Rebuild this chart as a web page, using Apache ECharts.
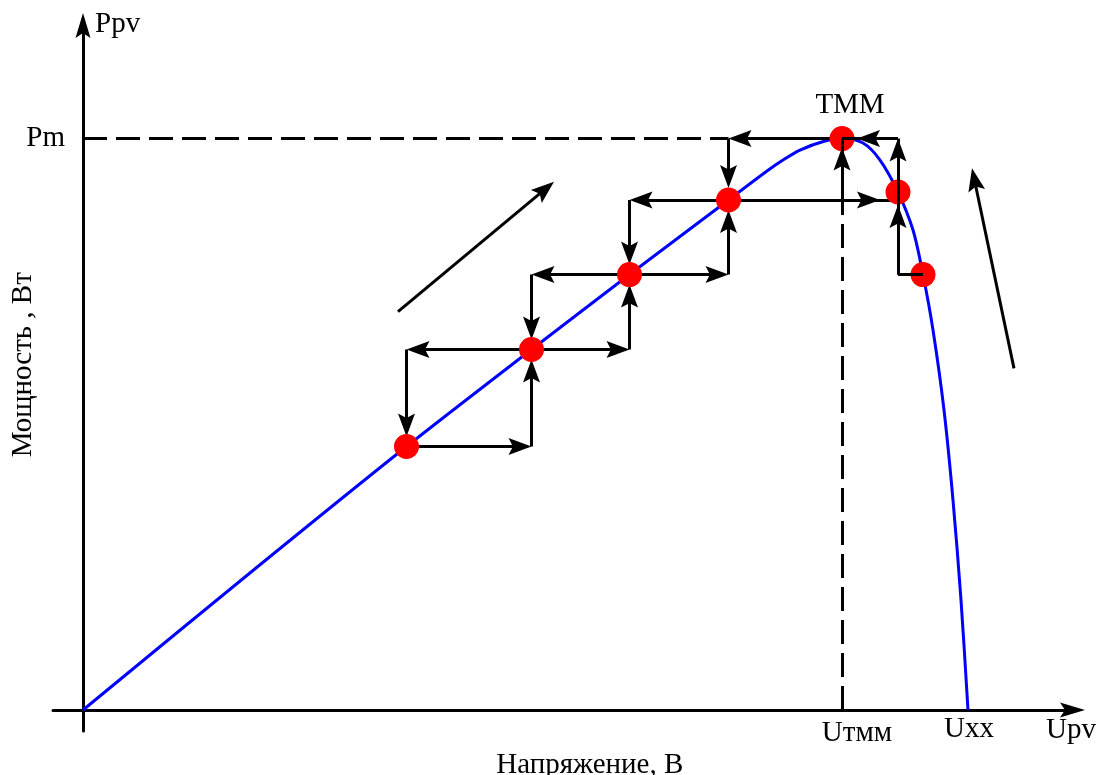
<!DOCTYPE html>
<html><head><meta charset="utf-8">
<script src="https://cdn.jsdelivr.net/npm/echarts@6/dist/echarts.min.js"></script>
<style>html,body{margin:0;padding:0;background:#fff}#c{width:1105px;height:775px}</style>
</head><body><div id="c"></div>
<script>
// ---- data ----
const xTitle = 'Напряжение, В';
const yTitle = 'Мощность , Вт';
// P-U curve of the PV panel (schematic units)
const curveX = [0, 16.2, 32.35, 44.85, 54.65, 64.55, 68.4, 70.0, 71.7, 74.2, 75.9, 78.0, 79.7, 81.5, 83.0, 84.0, 85.0, 86.1, 87.0, 87.8, 88.5];
const curveY = [0, 19.0, 37.64, 51.5, 62.21, 72.86, 77.0, 78.57, 80.0, 81.29, 81.64, 81.0, 78.57, 74.0, 68.57, 62.21, 54.29, 42.86, 30.0, 15.71, 0];
// operating points (red dots) P1..P7, P5 = MPP
const opX = [32.35, 44.85, 54.65, 64.55, 75.9, 81.5, 84.0];
const opY = [37.64, 51.5, 62.21, 72.86, 81.64, 74.0, 62.21];
// trend arrows
const trendStartX = [31.5, 93.1];
const trendStartY = [56.9, 48.81];
const trendEndX = [47.1, 88.9];
const trendEndY = [75.47, 77.39];
// text labels
const lblPm = 'Pm', lblUmpp = 'Uтмм', lblUoc = 'Uхх', lblUpv = 'Upv', lblPpv = 'Ppv', lblMpp = 'ТММ';
const xMin = -3, xMax = 98.95, yMin = -3, yMax = 97.79;
const upvAt = 98.8, ppvAt = 98.0;

// ---- chart ----
const chart = echarts.init(document.getElementById('c'), null, {renderer: 'canvas'});
const font = {fontFamily: 'Liberation Serif', fontSize: 29, color: '#000', textBorderWidth: 0, opacity: 1};
const ARROW = 'path://M10,0 L20,26 L10,21 L0,26 Z';
const AXIS_ARROW = 'path://M7.5,0 L15,25 L7.5,20 L0,25 Z';
const HEAD = 23, HW = 17;
const axisCommon = {
  type: 'value', axisTick: {show: false}, axisLabel: {show: false}, splitLine: {show: false},
};
chart.setOption({
  animation: false,
  grid: {left: 53, right: 32.5, top: 25.5, bottom: 44, containLabel: false, outerBoundsMode: 'none'},
  xAxis: Object.assign({}, axisCommon, {
    min: xMin, max: xMax, name: xTitle, nameLocation: 'middle', nameGap: 20,
    nameTextStyle: Object.assign({}, font, {padding: [0, 0, 0, 54]}),
    axisLine: {onZero: true, symbol: ['none', AXIS_ARROW], symbolSize: [15, 25], lineStyle: {color: '#000', width: 3}}
  }),
  yAxis: Object.assign({}, axisCommon, {
    min: yMin, max: yMax, name: yTitle, nameLocation: 'middle', nameGap: 15,
    nameTextStyle: Object.assign({}, font, {padding: [0, 0, 0, 27]}),
    axisLine: {onZero: true, symbol: ['none', AXIS_ARROW], symbolSize: [15, 25], lineStyle: {color: '#000', width: 3}}
  }),
  series: []
});

const toPx = p => chart.convertToPixel({gridIndex: 0}, p);
const fromPx = p => chart.convertFromPixel({gridIndex: 0}, p);
const P = i => [opX[i], opY[i]];
function arrow(a, b, gap) {
  const pa = toPx(a), pb = toPx(b);
  const dx = pb[0] - pa[0], dy = pb[1] - pa[1];
  const L = Math.hypot(dx, dy), ux = dx / L, uy = dy / L;
  const back = gap + HEAD / 2;
  const end = [pb[0] - ux * back, pb[1] - uy * back];
  return {coords: [a, fromPx(end)]};
}
const plain = (a, b) => ({coords: [a, b]});

const GV = 10;
const underArrows = [], underPlain = [], overArrows = [], overPlain = [], dashed = [];
for (let i = 0; i < 3; i++) {
  const A = P(i), B = P(i + 1);
  underArrows.push(arrow(A, [B[0], A[1]], 0));
  underArrows.push(arrow([B[0], A[1]], B, GV));
  underArrows.push(arrow(B, [A[0], B[1]], 0));
  underArrows.push(arrow([A[0], B[1]], A, GV));
}
const P4 = P(3), P5 = P(4), P6 = P(5), P7 = P(6);
underArrows.push(arrow(P5, [P4[0], P5[1]], 0));
underArrows.push(arrow([P4[0], P5[1]], P4, GV + 2));
underArrows.push(arrow(P4, [P6[0], P4[1]], 18));
underPlain.push(plain(P4, [P6[0], P4[1]]));
dashed.push(plain([0, P5[1]], [P4[0], P5[1]]));
dashed.push(plain([P5[0], 0], [P5[0], P4[1]]));
overPlain.push(plain(P7, [P6[0], P7[1]]));
overPlain.push(plain([P6[0], P7[1]], [P6[0], P5[1]]));
overPlain.push(plain([P6[0], P5[1]], P5));
overPlain.push(plain([P5[0], P4[1]], P5));
overArrows.push(arrow([P6[0], P7[1]], P6, 13));
overArrows.push(arrow(P6, [P6[0], P5[1]], 0));
overArrows.push(arrow([P6[0], P5[1]], P5, 15));
overArrows.push(arrow([P5[0], P4[1]], P5, 9));
for (let i = 0; i < trendStartX.length; i++) {
  underArrows.push(arrow([trendStartX[i], trendStartY[i]], [trendEndX[i], trendEndY[i]], 0));
}

const blk = {color: '#000', width: 3};
function linesSeries(data, withArrow, z, extra) {
  return Object.assign({
    type: 'lines', coordinateSystem: 'cartesian2d', polyline: false, silent: true, z: z,
    symbol: withArrow ? ['none', ARROW] : ['none', 'none'],
    symbolSize: withArrow ? [0, [HW, HEAD]] : 0,
    lineStyle: Object.assign({}, blk, {opacity: 1, curveness: 0}),
    data: data
  }, extra || {});
}
const lbl = (value, text, position, distance, offset) => ({
  value: value,
  label: Object.assign({show: true, formatter: text, position: position, distance: distance, offset: offset || [0, 0]}, font)
});

chart.setOption({
  series: [
    {type: 'line', z: 1, silent: true, showSymbol: false, smooth: 0.3,
     lineStyle: {color: '#0000ff', width: 3}, data: curveX.map((x, i) => [x, curveY[i]])},
    linesSeries(dashed, false, 2, {lineStyle: {color: '#000', width: 3, type: [24, 9], opacity: 1}}),
    linesSeries(underPlain, false, 2),
    linesSeries(underArrows, true, 2),
    {type: 'scatter', z: 3, silent: true, symbol: 'circle', symbolSize: 25,
     itemStyle: {color: '#ff0000', opacity: 1}, data: opX.map((x, i) => [x, opY[i]])},
    linesSeries(overPlain, false, 4),
    linesSeries(overArrows, true, 4),
    {type: 'scatter', z: 5, silent: true, clip: false, symbol: 'circle', symbolSize: 0,
     itemStyle: {color: '#000'},
     data: [
       lbl([0, opY[4]], lblPm, 'left', 18),
       lbl([opX[4], 0], lblUmpp, 'bottom', 9, [15, 0]),
       lbl([curveX[curveX.length - 1], 0], lblUoc, 'bottom', 5, [1, 0]),
       lbl([upvAt, 0], lblUpv, 'bottom', 6, [0, 0]),
       lbl([0, ppvAt], lblPpv, 'right', 12),
       lbl([opX[4], opY[4]], lblMpp, 'top', 19, [8, 0])
     ]}
  ]
});
</script></body></html>
